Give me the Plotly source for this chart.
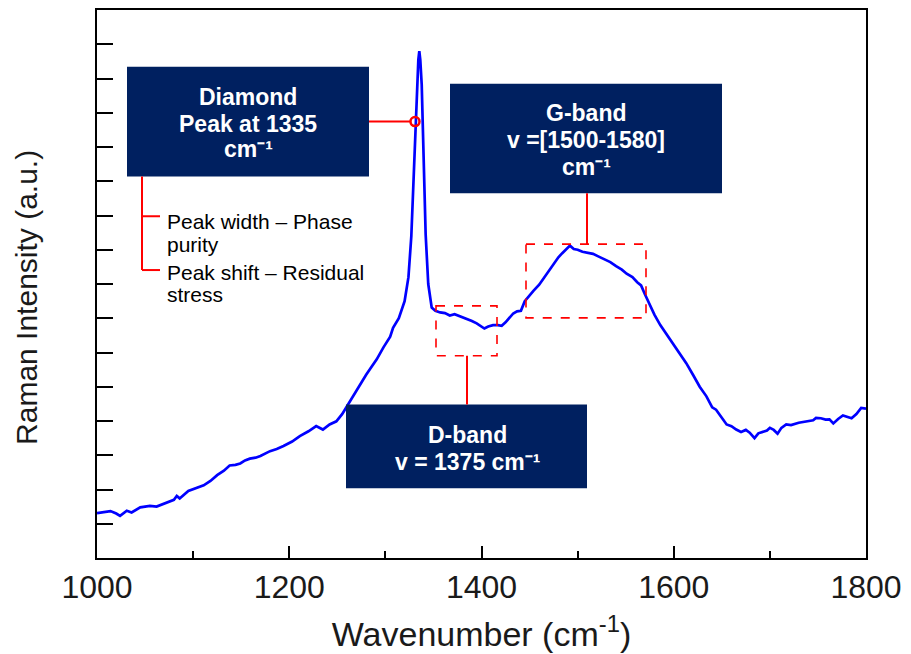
import plotly.graph_objects as go

# ---- data ----
wavenumber = [1000,1008,1014,1020,1024,1031,1036,1045,1055,1062,1072,1080,1083,1086,1095,1105,1111,1118,1125,1132,
              1138,1144,1149,1154,1159,1165,1170,1180,1187,1194,1203,1211,1220,1228,1235,1242,1249,1255,1260,1267,
              1273,1280,1286,1291,1298,1305,1308,1314,1320,1324,1327,1330,1331.5,1333.2,1334.3,1335.3,1336.3,1337.8,
              1340.2,1341.9,1344.6,1348.2,1352,1357,1362,1367,1372,1376,1380,1385,1390,1395,1400,1403,1407,1412,
              1417,1421,1425,1429,1433,1437,1441,1445,1450,1454,1460,1465,1470,1475,1480,1484,1488,1492,1496,1500,
              1505,1510,1516,1522,1528,1534,1540,1546,1551,1557,1562,1566,1570,1575,1580,1586,1592,1599,1606,1613,
              1620,1627,1634,1640,1644,1650,1655,1660,1665,1670,1675,1679,1684,1688,1693,1697,1700,1704,1708,1712,
              1717,1722,1730,1738,1745,1748,1753,1758,1762,1766,1771,1776,1781,1785,1790,1795,1800]
intensity = [1.31,1.35,1.37,1.30,1.23,1.38,1.33,1.48,1.52,1.50,1.62,1.70,1.81,1.74,1.96,2.05,2.12,2.25,2.42,2.55,
             2.70,2.72,2.76,2.85,2.90,2.93,2.98,3.12,3.18,3.27,3.40,3.56,3.70,3.85,3.75,3.90,3.99,4.20,4.43,4.75,
             5.06,5.35,5.60,5.80,6.15,6.46,6.72,7.00,7.50,8.20,9.40,11.50,12.74,13.82,14.55,14.80,14.55,13.82,
             11.38,9.45,8.00,7.31,7.22,7.17,7.15,7.08,7.12,7.08,7.02,6.99,6.92,6.85,6.74,6.70,6.76,6.80,
             6.80,6.78,6.88,7.02,7.14,7.20,7.22,7.50,7.68,7.80,7.98,8.18,8.35,8.55,8.78,8.90,9.02,9.12,9.02,9.00,
             8.94,8.92,8.88,8.80,8.72,8.64,8.52,8.42,8.30,8.20,8.05,7.96,7.70,7.40,7.10,6.80,6.55,6.27,6.00,5.69,
             5.35,5.00,4.72,4.40,4.33,4.10,3.90,3.85,3.75,3.68,3.74,3.66,3.50,3.64,3.68,3.72,3.80,3.74,3.63,3.80,
             3.90,3.88,3.95,3.98,4.02,4.09,4.08,4.04,4.05,3.93,4.06,4.16,4.12,4.08,4.20,4.38,4.36]
x_ticks = [1000, 1200, 1400, 1600, 1800]
x_tick_labels = ["1000", "1200", "1400", "1600", "1800"]
y_ticks = list(range(1, 16))

# ---- layout geometry (page has an 8px body margin) ----
OFF = 8
W, H = 903, 646
ML, MR, MT, MB = 89, 45, 0, 96
XR = (1000, 1800)
YR = (0, 16)
PW, PH = W - ML - MR, H - MT - MB
LEFT = OFF + ML
BOTTOM = OFF + H - MB


def X(px):
    return XR[0] + (px - LEFT) * (XR[1] - XR[0]) / PW


def Y(py):
    return YR[0] + (BOTTOM - py) * (YR[1] - YR[0]) / PH


def PX(px):
    return (px - LEFT) / PW


def PY(py):
    return (BOTTOM - py) / PH


NAVY = "#002060"
RED = "#FF0000"
FONT = "Liberation Sans, Arial, sans-serif"

fig = go.Figure()
fig.add_trace(go.Scatter(x=wavenumber, y=intensity, mode="lines",
                         line=dict(color="#0000FF", width=2.7), hoverinfo="skip"))

shapes = []
# navy boxes
for (x0, y0, x1, y1) in [(127, 65, 369, 175), (450, 82, 722, 192), (346, 404, 587, 488)]:
    shapes.append(dict(type="rect", xref="x", yref="y", x0=X(x0), x1=X(x1), y0=Y(y0), y1=Y(y1),
                       fillcolor=NAVY, line=dict(width=0), layer="above"))
# dashed rectangles
for (x0, y0, x1, y1) in [(436, 305, 497, 355), (526, 243, 646, 317)]:
    shapes.append(dict(type="rect", xref="x", yref="y", x0=X(x0), x1=X(x1), y0=Y(y0), y1=Y(y1),
                       line=dict(color=RED, width=1.6, dash="dash"), fillcolor="rgba(0,0,0,0)", layer="above"))
# leader lines
for (x0, y0, x1, y1) in [(369, 120, 410, 120), (587, 192, 587, 243), (467, 355, 467, 404),
                         (142, 175, 142, 269), (142, 215, 160, 215), (142, 269, 160, 269)]:
    shapes.append(dict(type="line", xref="x", yref="y", x0=X(x0), x1=X(x1), y0=Y(y0), y1=Y(y1),
                       line=dict(color=RED, width=2), layer="above"))
# circle marker on the diamond peak
shapes.append(dict(type="circle", xref="x", yref="y", xsizemode="pixel", ysizemode="pixel",
                   xanchor=X(415), yanchor=Y(120), x0=-4.5, x1=4.5, y0=-4.5, y1=4.5,
                   line=dict(color=RED, width=2.5), fillcolor="rgba(0,0,0,0)", layer="above"))

annotations = []
box_lines = [
    (248, 95, "Diamond"), (248, 122, "Peak at 1335"), (248, 148, "cm⁻¹"),
    (586, 111, "G-band"), (586, 138, "v =[1500-1580]"), (586, 166, "cm⁻¹"),
    (467, 435, "D-band"), (467, 462, "v = 1375 cm⁻¹"),
]
for (px, py, t) in box_lines:
    annotations.append(dict(x=X(px), y=Y(py), xref="x", yref="y", text="<b>" + t + "</b>",
                            showarrow=False, xanchor="center", yanchor="middle",
                            font=dict(family=FONT, size=23, color="white")))
note_lines = [(165, 220, "Peak width – Phase"), (165, 243, "purity"),
              (165, 271, "Peak shift – Residual"), (165, 294, "stress")]
for (px, py, t) in note_lines:
    annotations.append(dict(x=X(px), y=Y(py), xref="x", yref="y", text=t, showarrow=False,
                            xanchor="left", yanchor="middle",
                            font=dict(family=FONT, size=21, color="black")))
# y axis title
annotations.append(dict(x=PX(27), y=PY(297), xref="paper", yref="paper", text="Raman Intensity (a.u.)",
                        textangle=-90, showarrow=False, xanchor="center", yanchor="middle",
                        font=dict(family=FONT, size=30, color="#1a1a1a")))

fig.update_layout(
    width=W, height=H, margin=dict(l=ML, r=MR, t=MT, b=MB),
    paper_bgcolor="white", plot_bgcolor="white", showlegend=False,
    shapes=shapes, annotations=annotations,
    xaxis=dict(range=list(XR), tickvals=x_ticks, ticktext=x_tick_labels, ticks="inside", ticklen=12,
               tickwidth=2, tickcolor="black", showline=True, linecolor="black", linewidth=2, mirror=True,
               showgrid=False, zeroline=False,
               minor=dict(dtick=100, tick0=1000, ticks="inside", ticklen=7, tickwidth=2, tickcolor="black",
                          showgrid=False),
               tickfont=dict(family=FONT, size=32, color="#1a1a1a"),
               title=dict(text="Wavenumber (cm<sup>-1</sup>)", font=dict(family=FONT, size=34, color="#1a1a1a"),
                          standoff=18)),
    yaxis=dict(range=list(YR), tickvals=y_ticks, ticks="inside", ticklen=16, tickwidth=2, tickcolor="black",
               showticklabels=False, showline=True, linecolor="black", linewidth=2, mirror=True,
               showgrid=False, zeroline=False),
)

fig.write_html("out.html")
